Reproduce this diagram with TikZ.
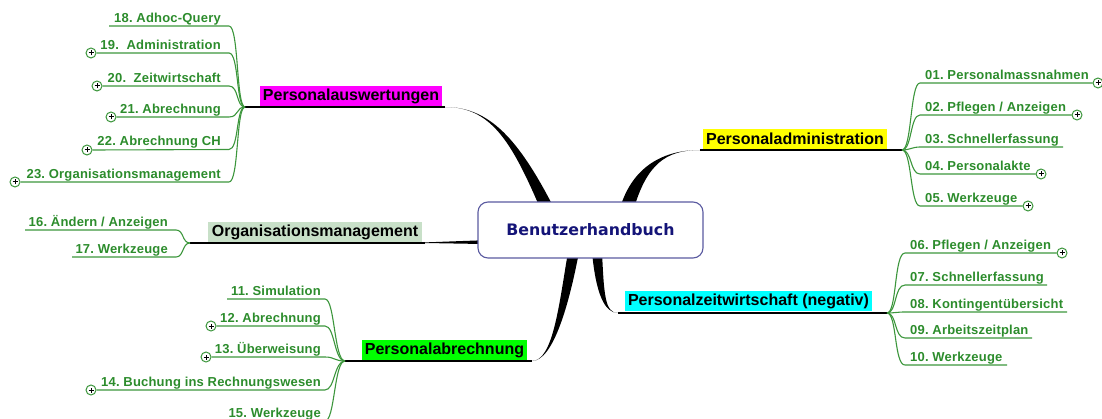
\documentclass[tikz,border=0pt]{standalone}
\usepackage{fontspec}
\setmainfont{Liberation Sans}
\newfontfamily\rootfont{DejaVu Sans Bold}
\newfontfamily\kidfont{Liberation Sans Bold}[LetterSpace=1.5]
\newfontfamily\branchfont{Liberation Sans Bold}
\definecolor{cgreen}{RGB}{44,140,44}
\definecolor{lgreen}{RGB}{60,150,60}
\definecolor{bmag}{RGB}{255,0,255}
\definecolor{byel}{RGB}{255,255,0}
\definecolor{bcyan}{RGB}{0,255,255}
\definecolor{bgreen}{RGB}{0,255,0}
\definecolor{borg}{RGB}{200,224,200}
\definecolor{navy}{RGB}{20,20,120}
\definecolor{rootborder}{RGB}{90,90,160}
\frenchspacing
\tikzset{
  childtext/.style={font=\kidfont\fontsize{13}{15}\selectfont, text=cgreen, inner sep=0pt},
  branchbox/.style={font=\branchfont\fontsize{16}{18}\selectfont, text=black, inner sep=0pt, minimum height=20pt},
  pl/.style={circle, draw=lgreen, fill=white, minimum size=10pt, inner sep=0pt, line width=1pt,
    path picture={\draw[black,line width=1pt]
      ([xshift=-2.5pt]path picture bounding box.center) -- ([xshift=2.5pt]path picture bounding box.center)
      ([yshift=-2.5pt]path picture bounding box.center) -- ([yshift=2.5pt]path picture bounding box.center);}},
  cline/.style={draw=lgreen, line width=1.1pt},
  mline/.style={draw=black, line width=1.1pt},
  taper/.style={fill=black},
}
\begin{document}
\begin{tikzpicture}[x=1pt,y=-1pt]
\useasboundingbox (0,0) rectangle (1102,419);

% ---------- junctions and main line ends
\coordinate (J1) at (245,107);
\coordinate (J2) at (902,150);
\coordinate (J3) at (887,313);
\coordinate (J4) at (190,243);
\coordinate (J5) at (345,361);
\coordinate (a1) at (445,107);
\coordinate (a2) at (700,150);
\coordinate (a3) at (618,313);
\coordinate (a4) at (425,243);
\coordinate (a5) at (532,361);

% ---------- tapered main connectors
\fill[taper] (a1) .. controls (490,107) and (511,140) .. (540,208) -- (554,208) .. controls (519,140) and (490,107) .. (a1) -- cycle;
\fill[taper] (a2) .. controls (665,150) and (633,165) .. (620,208) -- (634,208) .. controls (647,165) and (665,150) .. (a2) -- cycle;
\fill[taper] (a3) .. controls (605,313) and (596,295) .. (592,252) -- (602,252) .. controls (604,295) and (605,313) .. (a3) -- cycle;
\fill[taper] (a5) .. controls (553,361) and (559,305) .. (568,252) -- (579,252) .. controls (569,305) and (553,361) .. (a5) -- cycle;
\fill[taper] (a4) -- ++(0,-0.6) -- (482,240.3) -- (482,244) -- (a4) -- cycle;

% ---------- root
\node[draw=rootborder, fill=white, line width=1.1pt, rounded corners=10pt,
      minimum width=225pt, minimum height=56pt, inner sep=0pt,
      font=\rootfont\fontsize{15.8}{18}\selectfont, text=navy] (root) at (590.5,230) {Benutzerhandbuch};

% ---------- main branch boxes and lines
\node[branchbox, fill=bmag, minimum width=182pt] (b1) at (351,96.5) {Personalauswertungen};
\node[branchbox, fill=byel, minimum width=184pt] (b2) at (795,139) {Personaladministration};
\node[branchbox, fill=bcyan, minimum width=247pt] (b3) at (748.5,301.5) {Personalzeitwirtschaft (negativ)};
\node[branchbox, fill=borg, minimum width=214pt, minimum height=21pt] (b4) at (315,232.5) {Organisationsmanagement};
\node[branchbox, fill=bgreen, minimum width=165pt] (b5) at (444.5,350) {Personalabrechnung};

\draw[mline] (J1) -- (a1);
\draw[mline] (a2) -- (J2);
\draw[mline] (a3) -- (J3);
\draw[mline] (J4) -- (a4);
\draw[mline] (J5) -- (a5);

% ---------- group 1: Personalauswertungen (left, top)
\node[childtext, anchor=base east] (t18) at (221,22.5) {18. Adhoc-Query};
\coordinate (s18) at (109,26);
\draw[cline] (s18) -- (229,26) .. controls (239,26) and (236,107) .. (J1);

\node[pl] (p19) at (91,53) {};
\node[childtext, anchor=base east] (t19) at (221,49.5) {19.\ \ Administration};
\draw[cline] (p19.east) -- (229,53) .. controls (239,53) and (236,107) .. (J1);

\node[pl] (p20) at (97,86) {};
\node[childtext, anchor=base east] (t20) at (221,82.5) {20.\ \ Zeitwirtschaft};
\draw[cline] (p20.east) -- (229,86) .. controls (239,86) and (236,107) .. (J1);

\node[pl] (p21) at (111,117) {};
\node[childtext, anchor=base east] (t21) at (221,113.5) {21. Abrechnung};
\draw[cline] (p21.east) -- (229,117) .. controls (239,117) and (236,107) .. (J1);

\node[pl] (p22) at (87,150) {};
\node[childtext, anchor=base east] (t22) at (221,146) {22. Abrechnung CH};
\draw[cline] (p22.east) -- (229,149.5) .. controls (239,149.5) and (236,107) .. (J1);

\node[pl] (p23) at (15,182) {};
\node[childtext, anchor=base east] (t23) at (221,178.5) {23. Organisationsmanagement};
\draw[cline] (p23.east) -- (229,182) .. controls (239,182) and (236,107) .. (J1);

% ---------- group 2: Personaladministration (right, top)
\node[pl] (p01) at (1098,83) {};
\node[childtext, anchor=base west] (t01) at (925,79.5) {01. Personalmassnahmen};
\draw[cline] (J2) .. controls (912,150) and (910,83) .. (920,83) -- (p01.west);

\node[pl] (p02) at (1077,115) {};
\node[childtext, anchor=base west] (t02) at (925,111.5) {02. Pflegen / Anzeigen};
\draw[cline] (J2) .. controls (912,150) and (910,115) .. (920,115) -- (p02.west);

\node[childtext, anchor=base west] (t03) at (925,143.5) {03. Schnellerfassung};
\coordinate (e03) at (1063,147);
\draw[cline] (J2) .. controls (910,150) and (912,147) .. (920,147) -- (e03);

\node[pl] (p04) at (1041,174) {};
\node[childtext, anchor=base west] (t04) at (925,170.5) {04. Personalakte};
\draw[cline] (J2) .. controls (912,150) and (910,174) .. (920,174) -- (p04.west);

\node[pl] (p05) at (1028,206) {};
\node[childtext, anchor=base west] (t05) at (925,202.5) {05. Werkzeuge};
\draw[cline] (J2) .. controls (912,150) and (910,206) .. (920,206) -- (p05.west);

% ---------- group 3: Personalzeitwirtschaft (right, bottom)
\node[pl] (p06) at (1062,253) {};
\node[childtext, anchor=base west] (t06) at (910,249.5) {06. Pflegen / Anzeigen};
\draw[cline] (J3) .. controls (897,313) and (894,253) .. (905,253) -- (p06.west);

\node[childtext, anchor=base west] (t07) at (910,281.5) {07. Schnellerfassung};
\coordinate (e07) at (1047,285);
\draw[cline] (J3) .. controls (897,313) and (894,285) .. (905,285) -- (e07);

\node[childtext, anchor=base west] (t08) at (910,308.5) {08. Kontingentübersicht};
\coordinate (e08) at (1067,312);
\draw[cline] (J3) .. controls (895,313) and (897,312) .. (905,312) -- (e08);

\node[childtext, anchor=base west] (t09) at (910,334.5) {09. Arbeitszeitplan};
\coordinate (e09) at (1032,338);
\draw[cline] (J3) .. controls (897,313) and (894,338) .. (905,338) -- (e09);

\node[childtext, anchor=base west] (t10) at (910,361.5) {10. Werkzeuge};
\coordinate (e10) at (1007,365);
\draw[cline] (J3) .. controls (897,313) and (894,365) .. (905,365) -- (e10);

% ---------- group 4: Organisationsmanagement (left, middle)
\node[childtext, anchor=base east] (t16) at (168,226.5) {16. Ändern / Anzeigen};
\coordinate (s16) at (25,230);
\draw[cline] (s16) -- (176,230) .. controls (184,230) and (182,243) .. (J4);

\node[childtext, anchor=base east] (t17) at (168,253.5) {17. Werkzeuge};
\coordinate (s17) at (72,257);
\draw[cline] (s17) -- (176,257) .. controls (184,257) and (182,243) .. (J4);

% ---------- group 5: Personalabrechnung (left, bottom)
\node[childtext, anchor=base east] (t11) at (321,295.5) {11. Simulation};
\coordinate (s11) at (227,299);
\draw[cline] (s11) -- (325,299) .. controls (335,299) and (334,361) .. (J5);

\node[pl] (p12) at (211,326) {};
\node[childtext, anchor=base east] (t12) at (321,322.5) {12. Abrechnung};
\draw[cline] (p12.east) -- (325,326) .. controls (335,326) and (334,361) .. (J5);

\node[pl] (p13) at (206,357) {};
\node[childtext, anchor=base east] (t13) at (321,353.5) {13. Überweisung};
\draw[cline] (p13.east) -- (325,357) .. controls (335,357) and (334,361) .. (J5);

\node[pl] (p14) at (91,390) {};
\node[childtext, anchor=base east] (t14) at (321,386.5) {14. Buchung ins Rechnungswesen};
\draw[cline] (p14.east) -- (325,390) .. controls (335,390) and (334,361) .. (J5);

\node[childtext, anchor=base east] (t15) at (321,417.5) {15. Werkzeuge};
\coordinate (s15) at (228,421);
\draw[cline] (s15) -- (325,421) .. controls (335,421) and (334,361) .. (J5);
\end{tikzpicture}
\end{document}
